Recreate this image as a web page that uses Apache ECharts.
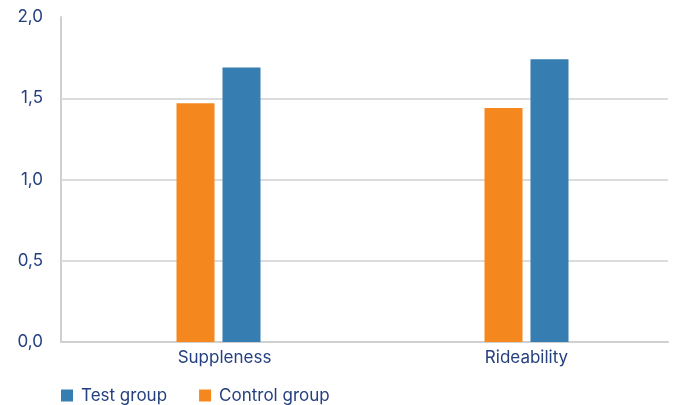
<!DOCTYPE html>
<html><head><meta charset="utf-8">
<script src="https://cdn.jsdelivr.net/npm/echarts@6/dist/echarts.min.js"></script>
<style>html,body{margin:0;padding:0;background:#fff}#c{width:673px;height:405px}</style>
</head><body><div id="c"></div>
<script>
var categories = ['Suppleness', 'Rideability'];
var controlGroup = [1.47, 1.44];
var testGroup = [1.69, 1.74];
var seriesNames = ['Control group', 'Test group'];
var legendOrder = ['Test group', 'Control group'];
var yTickLabels = ['0,0', '0,5', '1,0', '1,5', '2,0'];

var txt = '#25407F';
var font = 'Inter';
var chart = echarts.init(document.getElementById('c'), null, {renderer: 'canvas'});
chart.setOption({
  animation: false,
  textStyle: {fontFamily: font},
  grid: [
    {left: 61, right: 5, top: 17, bottom: 63, outerBoundsMode: 'none'},
    {left: 64.5, width: 616, top: 17, bottom: 63, outerBoundsMode: 'none'}
  ],
  xAxis: [
    {gridIndex: 0, type: 'category', data: categories,
     axisLine: {lineStyle: {color: '#d0d0d0', width: 2}},
     axisTick: {show: false}, axisLabel: {show: false}},
    {gridIndex: 1, type: 'category', data: categories,
     axisLine: {show: false}, axisTick: {show: false},
     axisLabel: {color: txt, fontSize: 17, fontFamily: font, margin: 7,
       formatter: function (v, i) { return i === 0 ? '{a|' + v + '}' : v; },
       rich: {a: {color: txt, fontSize: 17, fontFamily: font, padding: [0, 0, 0, 12]}}}}
  ],
  yAxis: [
    {gridIndex: 0, type: 'value', min: 0, max: 2, interval: 0.5,
     axisLine: {show: true, lineStyle: {color: '#d0d0d0', width: 2}},
     axisTick: {show: false},
     axisLabel: {color: txt, fontSize: 17, fontFamily: font, margin: 18,
       formatter: function (v) { return yTickLabels[Math.round(v / 0.5)]; }},
     splitLine: {show: true, lineStyle: {color: ['#d0d0d0', '#d0d0d0', '#d0d0d0', '#d0d0d0', 'rgba(0,0,0,0)'], width: 1.5}}},
    {gridIndex: 1, type: 'value', min: 0, max: 2, interval: 0.5, show: false}
  ],
  legend: {
    data: legendOrder, left: 61, top: 387, padding: 0, itemWidth: 12, itemHeight: 12, itemGap: 32,
    icon: 'rect',
    textStyle: {color: txt, fontSize: 17, fontFamily: font, padding: [0, 0, 0, 3]}
  },
  series: [
    {name: seriesNames[0], type: 'bar', xAxisIndex: 1, yAxisIndex: 1, data: controlGroup,
     barWidth: 38, barGap: '21%', itemStyle: {color: '#F5871F'}},
    {name: seriesNames[1], type: 'bar', xAxisIndex: 1, yAxisIndex: 1, data: testGroup,
     barWidth: 38, barGap: '21%', itemStyle: {color: '#367DB1'}}
  ]
});
</script></body></html>
